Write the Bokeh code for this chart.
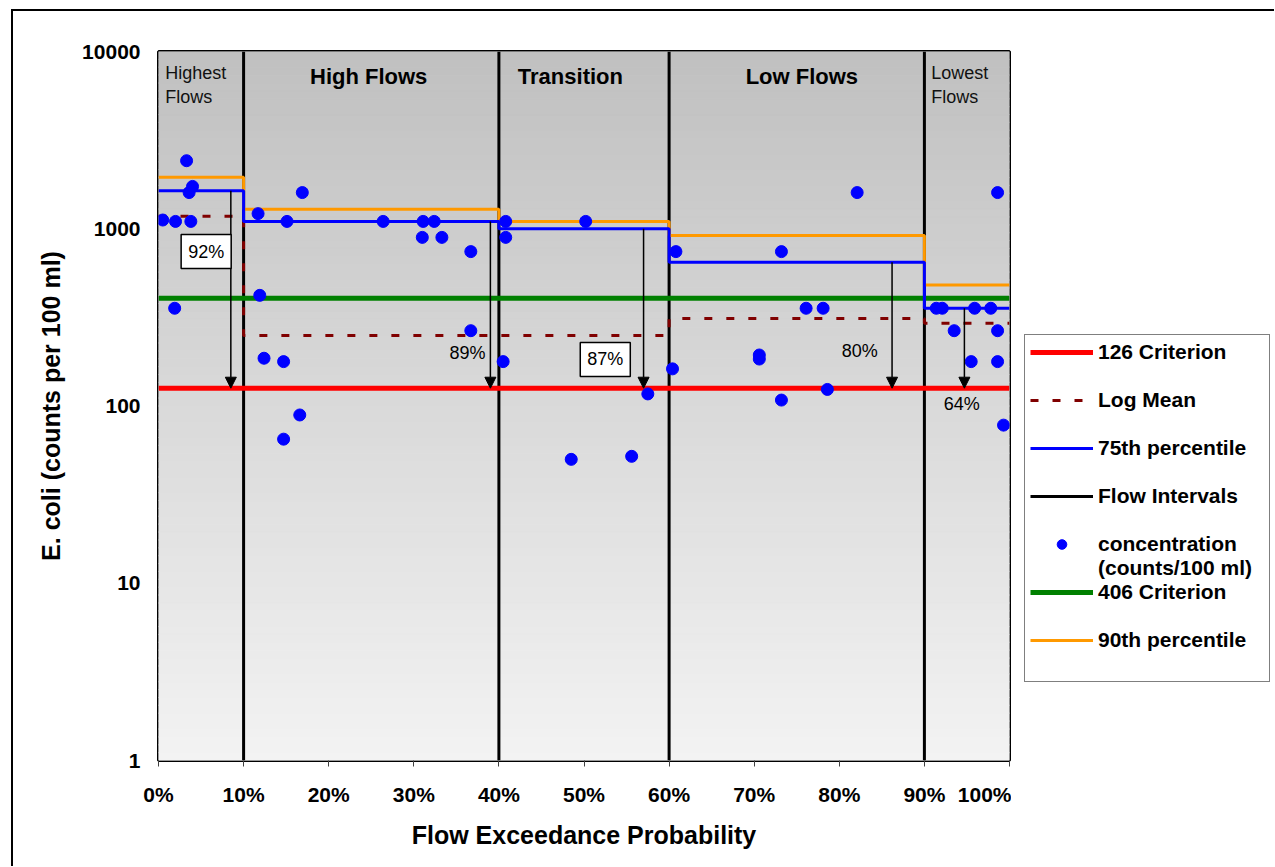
import numpy as np
from bokeh.plotting import figure
from bokeh.layouts import row
from bokeh.models import (ColumnDataSource, Legend, LegendItem, Arrow, NormalHead, Label,
                          FixedTicker, NumeralTickFormatter, PrintfTickFormatter, Range1d)
from bokeh.embed import file_html
from bokeh.resources import INLINE

# ---------------- data ----------------
interval_bounds = [0.0, 0.10, 0.40, 0.60, 0.90, 1.00]
region_names = ["Highest\nFlows", "High Flows", "Transition", "Low Flows", "Lowest\nFlows"]
region_label_x = [0.008, 0.247, 0.484, 0.756, 0.908]
region_bold = [False, True, True, True, False]

p90 = [1950, 1290, 1100, 915, 482]
p75 = [1640, 1100, 1000, 647, 356]
log_mean = [1175, 250, 250, 312, 293]
criterion_126 = 126
criterion_406 = 406

conc_x = [0.005, 0.020, 0.038, 0.019, 0.033, 0.040, 0.036,
          0.117, 0.119, 0.124, 0.147, 0.147, 0.151, 0.166, 0.169, 0.264, 0.310, 0.311,
          0.324, 0.333, 0.367, 0.367,
          0.405, 0.408, 0.408, 0.485, 0.502, 0.556, 0.575,
          0.604, 0.608, 0.706, 0.706, 0.732, 0.732, 0.761, 0.781, 0.786, 0.821,
          0.914, 0.921, 0.935, 0.955, 0.959, 0.978, 0.986, 0.986, 0.986, 0.993]
conc_y = [1120, 1100, 1100, 356, 2420, 1733, 1600,
          1217, 421, 186, 178, 65, 1100, 89, 1600, 1100, 894, 1100,
          1100, 894, 743, 266,
          178, 1100, 894, 50, 1100, 52, 117,
          162, 743, 194, 184, 743, 108, 356, 356, 124, 1600,
          356, 356, 266, 178, 356, 356, 1600, 266, 178, 78]

reduction_pct = [92, 89, 87, 80, 64]
arrow_x = [0.085, 0.390, 0.570, 0.862, 0.947]
pct_label_x = [0.056, 0.363, 0.525, 0.824, 0.944]
pct_label_y = [743, 200, 183, 203, 103]
pct_boxed = [True, False, True, False, False]

y_ticks = [1, 10, 100, 1000, 10000]
x_ticks = [0.0, 0.1, 0.2, 0.3, 0.4, 0.5, 0.6, 0.7, 0.8, 0.9, 1.0]

FONT = "Liberation Sans"
RED, GREEN, BLUE, ORANGE, MAROON = "#ff0000", "#008000", "#0000ff", "#ff9900", "#800000"

# ---------------- main figure ----------------
p = figure(width=1011, height=866, x_range=Range1d(0, 1), y_range=Range1d(1, 10000),
           y_axis_type="log", output_backend="svg", toolbar_location=None,
           min_border_left=158, min_border_right=2, min_border_top=51, min_border_bottom=106)
p.grid.visible = False
p.outline_line_color = "black"
p.outline_line_width = 3
p.background_fill_color = "white"
p.border_fill_color = None

# gradient background of the plot area
n_bands = 90
edges = np.logspace(0, 4, n_bands + 1)
t = (np.arange(n_bands) + 0.5) / n_bands  # 0 at bottom, 1 at top
shade = (243 - 51 * t).round().astype(int)
cols = ["#%02x%02x%02x" % (s, s, s) for s in shade]
p.quad(left=0, right=1, bottom=edges[:-1], top=edges[1:], fill_color=cols,
       line_color=cols, line_width=1, level="underlay")

# flow interval lines
inner = interval_bounds[1:-1]
p.segment(x0=inner, y0=[y_ticks[0]] * len(inner), x1=inner, y1=[y_ticks[-1]] * len(inner),
          line_color="black", line_width=3)

# criteria
p.line(x=[interval_bounds[0], interval_bounds[-1]], y=[criterion_126] * 2, line_color=RED, line_width=5)
p.line(x=[interval_bounds[0], interval_bounds[-1]], y=[criterion_406] * 2, line_color=GREEN, line_width=5)

# step lines
p.step(x=interval_bounds, y=log_mean + [log_mean[-1]], mode="after",
       line_color=MAROON, line_width=3, line_dash="8 14")
p.step(x=interval_bounds, y=p90 + [p90[-1]], mode="after", line_color=ORANGE, line_width=3)
p.step(x=interval_bounds, y=p75 + [p75[-1]], mode="after", line_color=BLUE, line_width=3)

# concentration points
p.scatter(x=conc_x, y=conc_y, size=12, fill_color=BLUE, line_color=BLUE)

# arrows
arrow_src = ColumnDataSource(dict(x0=arrow_x, y0=p75, x1=arrow_x, y1=[criterion_126] * len(arrow_x)))
p.add_layout(Arrow(end=NormalHead(size=11, fill_color="black", line_color="black", line_width=1),
                   x_start="x0", y_start="y0", x_end="x1", y_end="y1", source=arrow_src,
                   line_color="black", line_width=1.5))

# percent labels
for px, py, pct, boxed in zip(pct_label_x, pct_label_y, reduction_pct, pct_boxed):
    kw = dict(x=px, y=py, text=f"{pct}%", text_align="center", text_baseline="middle",
              text_font=FONT, text_font_size="18px", text_color="black")
    if boxed:
        kw.update(background_fill_color="white", border_line_color="black",
                  border_line_width=1.5, padding=7)
    p.add_layout(Label(**kw))

# region labels
for name, rx, bold in zip(region_names, region_label_x, region_bold):
    if bold:
        p.add_layout(Label(x=rx, y=684, y_units="screen", text=name, text_align="center",
                           text_baseline="middle", text_font=FONT, text_font_size="22px",
                           text_font_style="bold", text_color="black"))
    else:
        p.add_layout(Label(x=rx, y=698, y_units="screen", text=name, text_align="left",
                           text_baseline="top", text_font=FONT, text_font_size="18px",
                           text_color="#111111", text_line_height=1.22))

# axes
p.xaxis.ticker = FixedTicker(ticks=x_ticks)
p.xaxis.formatter = NumeralTickFormatter(format="0%")
p.yaxis.ticker = FixedTicker(ticks=y_ticks, minor_ticks=[])
p.yaxis.formatter = PrintfTickFormatter(format="%d")
for ax in (p.xaxis[0], p.yaxis[0]):
    ax.axis_line_color = None
    ax.major_label_text_font = FONT
    ax.major_label_text_font_style = "bold"
    ax.major_label_text_font_size = "21px"
    ax.major_label_text_color = "black"
    ax.axis_label_text_font = FONT
    ax.axis_label_text_font_style = "bold"
    ax.axis_label_text_font_size = "25px"
    ax.axis_label_text_color = "black"
    ax.minor_tick_line_color = None
p.xaxis.axis_label = "Flow Exceedance Probability"
p.yaxis.axis_label = "E. coli (counts per 100 ml)"
p.xaxis.major_tick_in = 0
p.xaxis.major_tick_out = 6
p.xaxis.major_tick_line_color = "#404040"
p.xaxis.major_label_standoff = 16
p.xaxis.axis_label_standoff = 12
p.yaxis.major_tick_in = 0
p.yaxis.major_tick_out = 0
p.yaxis.major_tick_line_color = None
p.yaxis.major_label_standoff = 18
p.yaxis.axis_label_standoff = 14

# ---------------- legend panel ----------------
lg = figure(width=263, height=866, x_range=Range1d(0, 1), y_range=Range1d(0, 1),
            output_backend="svg", toolbar_location=None, x_axis_location=None,
            y_axis_location=None, min_border_left=0, min_border_right=0,
            min_border_top=0, min_border_bottom=0)
lg.grid.visible = False
lg.outline_line_color = None
lg.background_fill_color = None
lg.border_fill_color = None

nan = [float("nan")]
k126 = lg.line(x=nan, y=nan, line_color=RED, line_width=5)
klog = lg.line(x=nan, y=nan, line_color=MAROON, line_width=3, line_dash="8 14")
k75 = lg.line(x=nan, y=nan, line_color=BLUE, line_width=3)
kint = lg.line(x=nan, y=nan, line_color="black", line_width=3)
kconc = lg.scatter(x=nan, y=nan, size=12, fill_color=BLUE, line_color=BLUE)
k406 = lg.line(x=nan, y=nan, line_color=GREEN, line_width=5)
k90 = lg.line(x=nan, y=nan, line_color=ORANGE, line_width=3)
kblank = lg.line(x=[], y=[], line_alpha=0)

items = [
    LegendItem(label="126 Criterion", renderers=[k126]),
    LegendItem(label=" ", renderers=[kblank]),
    LegendItem(label="Log Mean", renderers=[klog]),
    LegendItem(label=" ", renderers=[kblank]),
    LegendItem(label="75th percentile", renderers=[k75]),
    LegendItem(label=" ", renderers=[kblank]),
    LegendItem(label="Flow Intervals", renderers=[kint]),
    LegendItem(label=" ", renderers=[kblank]),
    LegendItem(label="concentration", renderers=[kconc]),
    LegendItem(label="(counts/100 ml)", renderers=[kblank]),
    LegendItem(label="406 Criterion", renderers=[k406]),
    LegendItem(label=" ", renderers=[kblank]),
    LegendItem(label="90th percentile", renderers=[k90]),
    LegendItem(label=" ", renderers=[kblank]),
]
legend = Legend(items=items, location=(13, 78), orientation="vertical",
                glyph_width=63, glyph_height=24, label_height=24, label_width=166,
                label_standoff=5, spacing=0, padding=5, margin=0,
                label_text_font=FONT, label_text_font_size="21px",
                label_text_font_style="bold", label_text_color="black",
                border_line_color="black", border_line_width=1.5,
                background_fill_color="white", background_fill_alpha=1)
lg.add_layout(legend, "center")

layout = row(p, lg)
layout.styles = {"box-shadow": "inset 11px 9px 0 0 white, inset 13px 11px 0 0 black"}

open("out.html", "w").write(file_html(layout, INLINE))
